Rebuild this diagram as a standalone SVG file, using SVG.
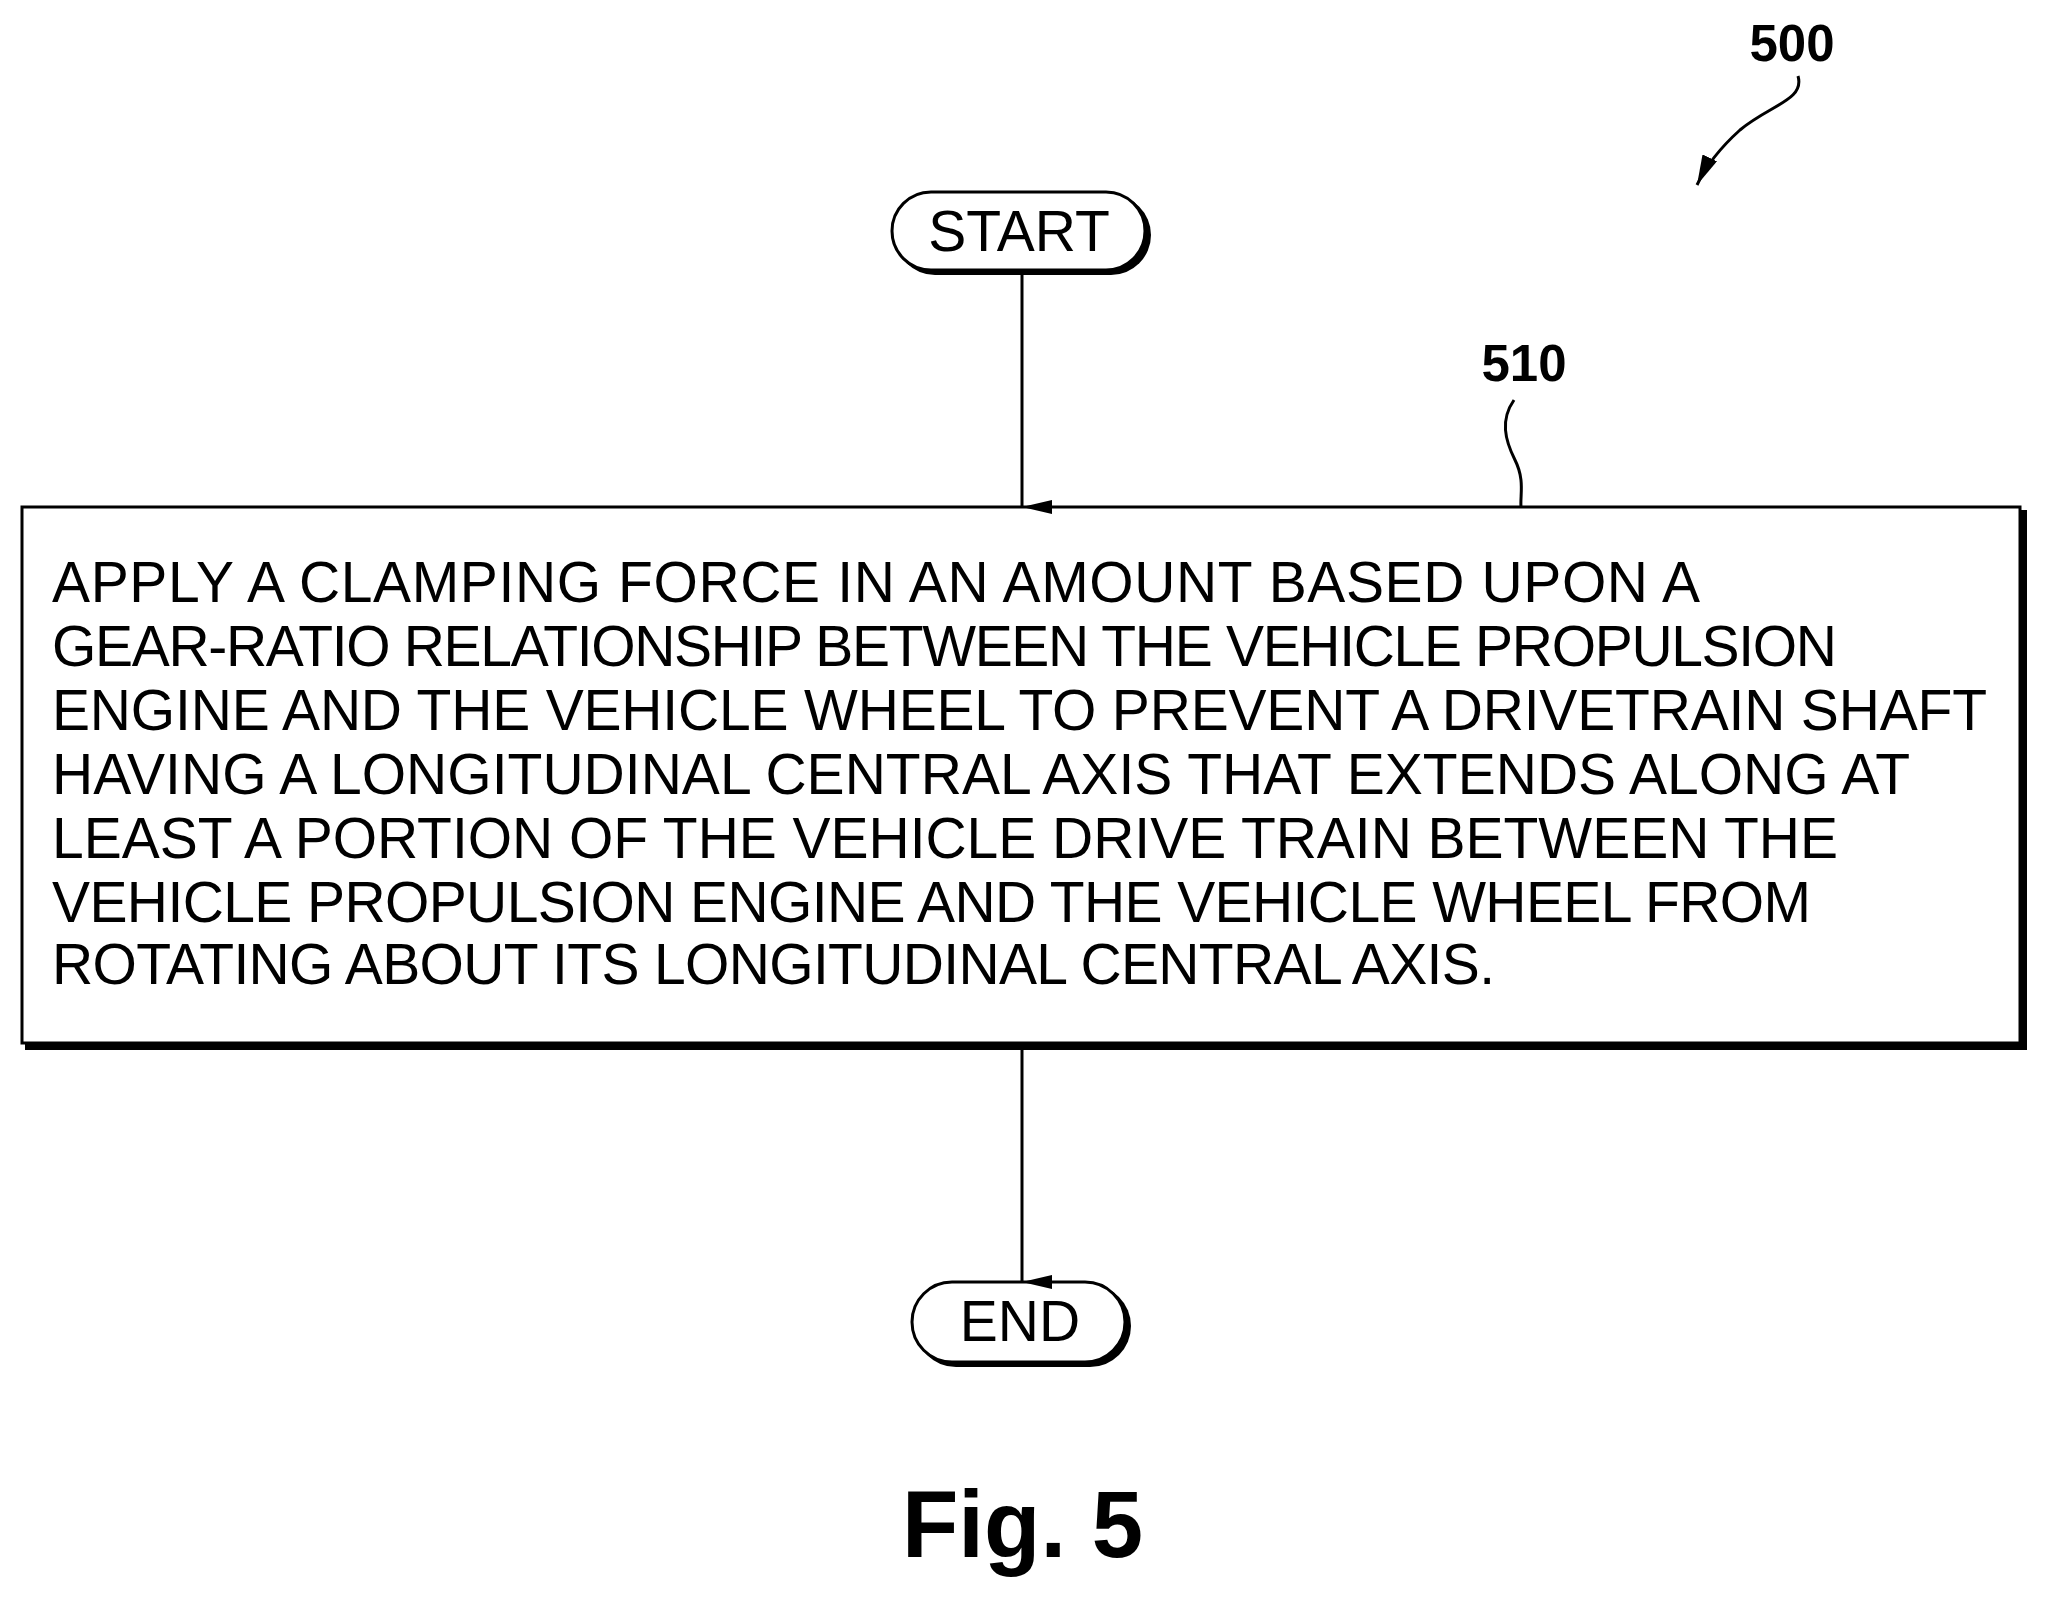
<svg xmlns="http://www.w3.org/2000/svg" width="2047" height="1597" viewBox="0 0 2047 1597">
<style>
.t{font-family:"Liberation Sans",Arial,sans-serif;font-size:57px;fill:#000}
.b{font-family:"Liberation Sans",Arial,sans-serif;font-weight:bold;fill:#000}
.ln{fill:none;stroke:#000;stroke-width:3}
</style>
<defs>
<marker id="ah" markerWidth="14" markerHeight="30" refX="7" refY="30" orient="auto-start-reverse" markerUnits="userSpaceOnUse" viewBox="0 0 14 30"><path d="M0,0 L14,0 L7,30 Z" fill="#000"/></marker>
<marker id="ah2" markerWidth="30" markerHeight="16" refX="30" refY="8" orient="auto" markerUnits="userSpaceOnUse" viewBox="0 0 30 16"><path d="M0,0 L30,8 L0,16 Z" fill="#000"/></marker>
</defs>
<rect width="2047" height="1597" fill="#fff"/>
<g id="label500">
<text class="b" x="1792" y="61" font-size="51" text-anchor="middle">500</text>
<path class="ln" d="M1798,76 C1805,100 1770,105 1740,130 C1720,148 1705,168 1697,185" marker-end="url(#ah2)"/>
</g>
<g id="start">
<rect x="895" y="195" width="256" height="80" rx="40" fill="#000"/>
<rect x="892" y="192" width="253" height="78" rx="39" fill="#fff" stroke="#000" stroke-width="3"/>
<text class="t" x="1019" y="251" text-anchor="middle" font-size="54">START</text>
</g>
<g id="step510">
<rect x="25" y="510" width="2002" height="540" fill="#000"/>
<rect x="22" y="507" width="1998" height="536" fill="#fff" stroke="#000" stroke-width="3"/>
<text class="t" x="52" y="602" textLength="1648" lengthAdjust="spacing">APPLY A CLAMPING FORCE IN AN AMOUNT BASED UPON A</text>
<text class="t" x="52" y="666" textLength="1785" lengthAdjust="spacing">GEAR-RATIO RELATIONSHIP BETWEEN THE VEHICLE PROPULSION</text>
<text class="t" x="52" y="730" textLength="1935" lengthAdjust="spacing">ENGINE AND THE VEHICLE WHEEL TO PREVENT A DRIVETRAIN SHAFT</text>
<text class="t" x="52" y="794" textLength="1858" lengthAdjust="spacing">HAVING A LONGITUDINAL CENTRAL AXIS THAT EXTENDS ALONG AT</text>
<text class="t" x="52" y="858" textLength="1786" lengthAdjust="spacing">LEAST A PORTION OF THE VEHICLE DRIVE TRAIN BETWEEN THE</text>
<text class="t" x="52" y="922" textLength="1759" lengthAdjust="spacing">VEHICLE PROPULSION ENGINE AND THE VEHICLE WHEEL FROM</text>
<text class="t" x="52" y="984" textLength="1443" lengthAdjust="spacing">ROTATING ABOUT ITS LONGITUDINAL CENTRAL AXIS.</text>
<text class="b" x="1524" y="381" font-size="51" text-anchor="middle">510</text>
<path class="ln" d="M1514,400 C1500,420 1505,440 1515,460 C1525,480 1520,495 1521,507"/>
</g>
<g id="end">
<rect x="915" y="1285" width="216" height="82" rx="41" fill="#000"/>
<rect x="912" y="1282" width="213" height="80" rx="40" fill="#fff" stroke="#000" stroke-width="3"/>
<text class="t" x="1020" y="1341" text-anchor="middle" font-size="56">END</text>
</g>
<g id="connectors">
<line class="ln" x1="1022" y1="272" x2="1022" y2="507" marker-end="url(#ah)"/>
<line class="ln" x1="1022" y1="1047" x2="1022" y2="1282" marker-end="url(#ah)"/>
</g>
<text class="b" x="902" y="1557" font-size="94" textLength="241" lengthAdjust="spacingAndGlyphs">Fig. 5</text>
</svg>
